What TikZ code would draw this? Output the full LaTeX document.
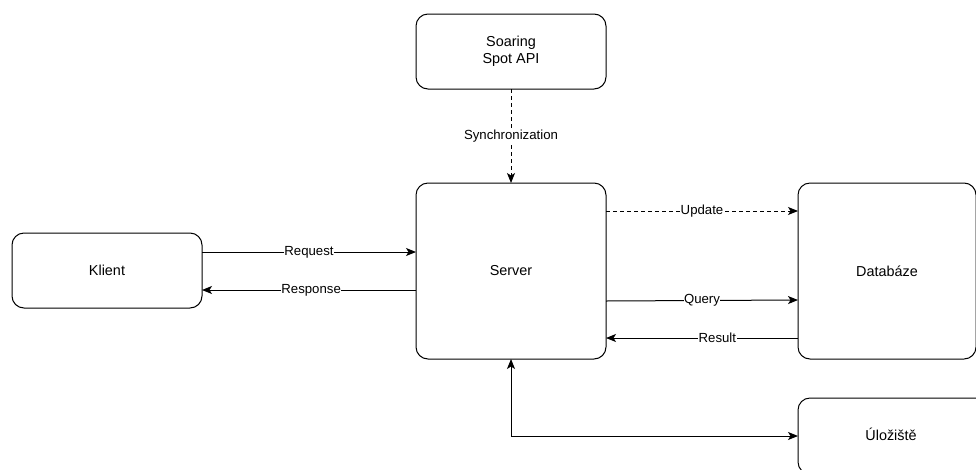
\documentclass[tikz,border=0pt]{standalone}
\usepackage{fontspec}
\setmainfont{Liberation Sans}
\usetikzlibrary{arrows.meta}
\begin{document}
\begin{tikzpicture}[x=1pt,y=-1pt,
  box/.style={draw=black,line width=1pt,rounded corners=12pt,fill=white},
  txt/.style={font=\fontsize{14.4}{17}\selectfont,align=center},
  conn/.style={line width=1pt,-{Stealth[length=10pt,width=8pt,inset=2.5pt]}},
  dsh/.style={dash pattern=on 4pt off 3pt},
  lbl/.style={fill=white,inner sep=0.5pt,font=\fontsize{13.2}{15}\selectfont}]
\useasboundingbox (0,0) rectangle (976,469);
\clip (0,0) rectangle (976,469);
\fill[white] (0,0) rectangle (976,469);
% boxes
\draw[box] (12,233) rectangle (202,308);
\node[txt] (klient) at (107,270.5) {Klient};
\coordinate (kR1) at (202,252);
\coordinate (kR2) at (202,290);

\draw[box] (416,14) rectangle (606,89);
\node[txt] (api) at (511,51.5) {Soaring\\Spot API};
\coordinate (apiB) at (511,89);

\draw[box] (416,183) rectangle (606,359);
\node[txt] (server) at (511,271) {Server};
\coordinate (sT) at (511,183);
\coordinate (sB) at (511,359);
\coordinate (sL1) at (416,252);
\coordinate (sL2) at (416,290);
\coordinate (sR1) at (606,211);
\coordinate (sR2) at (606,301);
\coordinate (sR3) at (606,338);

\draw[box] (798,183) rectangle (976,359);
\node[txt] (db) at (887,271) {Databáze};
\coordinate (dL1) at (798,211);
\coordinate (dL2) at (798,300);
\coordinate (dL3) at (798,338);

\draw[box] (798,398) rectangle (990,474);
\node[txt] (store) at (891,434) {Úložiště};
\coordinate (uL) at (798,436);
\coordinate (corner) at (511,436);

% connectors
\draw[conn] (kR1) -- node[lbl] {Request} (sL1);
\draw[conn] (sL2) -- node[lbl,pos=0.49] {Response} (kR2);
\draw[conn,dsh] (apiB) -- node[lbl] {Synchronization} (sT);
\draw[conn,dsh] (sR1) -- node[lbl] {Update} (dL1);
\draw[conn] (sR2) -- node[lbl] {Query} (dL2);
\draw[conn] (dL3) -- node[lbl,pos=0.42] {Result} (sR3);
\draw[line width=1pt,{Stealth[length=10pt,width=8pt,inset=2.5pt]}-{Stealth[length=10pt,width=8pt,inset=2.5pt]}] (sB) -- (corner) -- (uL);
\end{tikzpicture}
\end{document}
